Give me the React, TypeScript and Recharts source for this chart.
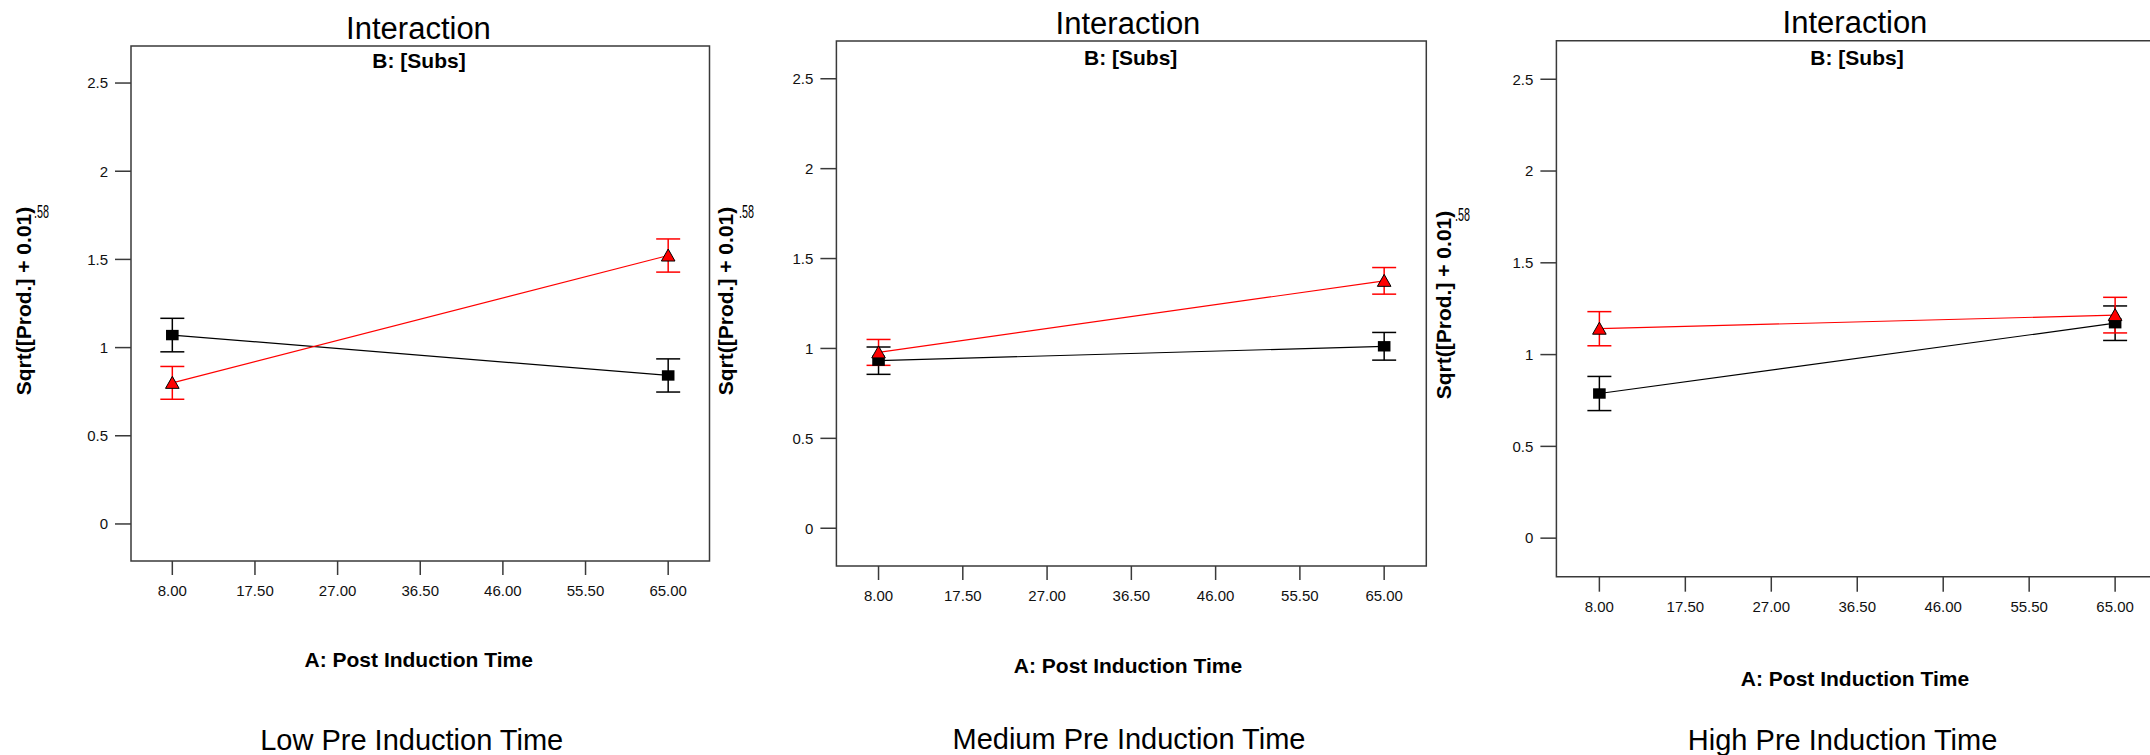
import React from 'react';
import { LineChart, Line, XAxis, YAxis, ErrorBar, ReferenceArea } from 'recharts';

// ---------- data ----------
const xLevels = [8, 65];
const xTicks = [8, 17.5, 27, 36.5, 46, 55.5, 65];
const yTicks = [0, 0.5, 1, 1.5, 2, 2.5];
const xDomain = [3.25, 69.75];
const yDomain = [-0.21, 2.71];

const lowBlack = [1.071, 0.842];
const lowBlackErr = [0.095, 0.094];
const lowRed = [0.8, 1.522];
const lowRedErr = [0.093, 0.094];

const medBlack = [0.932, 1.012];
const medBlackErr = [0.076, 0.077];
const medRed = [0.978, 1.376];
const medRedErr = [0.072, 0.074];

const highBlack = [0.788, 1.171];
const highBlackErr = [0.093, 0.094];
const highRed = [1.141, 1.215];
const highRedErr = [0.093, 0.097];

const panelCaptions = ['Low Pre Induction Time', 'Medium Pre Induction Time', 'High Pre Induction Time'];
const chartTitle = 'Interaction';
const subTitle = 'B: [Subs]';
const xAxisTitle = 'A: Post Induction Time';
const yAxisTitle = 'Sqrt([Prod.] + 0.01)';
const yAxisExponent = '.58';

const FONT = '"Liberation Sans", Arial, sans-serif';
const AXIS_COLOR = '#3a3a3a';

const rows = (vals: number[], errs: number[]) =>
  xLevels.map((x, i) => ({ x, y: vals[i], e: errs[i] }));

const SquareDot = (props: any) => {
  const { cx, cy, index } = props;
  if (cx == null || cy == null) return <g key={`sq-${index}`} />;
  return <rect key={`sq-${index}`} x={cx - 6.3} y={cy - 5.2} width={12.6} height={10.4} fill="#000" />;
};

const TriangleDot = (props: any) => {
  const { cx, cy, index } = props;
  if (cx == null || cy == null) return <g key={`tr-${index}`} />;
  const pts = `${cx},${cy - 6.5} ${cx - 6.8},${cy + 5.5} ${cx + 6.8},${cy + 5.5}`;
  return <polygon key={`tr-${index}`} points={pts} fill="#ff0000" stroke="#000" strokeWidth={1} />;
};

type PanelProps = {
  left: number;
  width: number;
  margin: { top: number; right: number; bottom: number; left: number };
  tickLenX: number;
  black: number[];
  blackErr: number[];
  red: number[];
  redErr: number[];
};

function Panel({ left, width, margin, tickLenX, black, blackErr, red, redErr }: PanelProps) {
  return (
    <div style={{ position: 'absolute', left, top: 0 }}>
      <LineChart width={width} height={755} margin={margin}>
        <XAxis
          type="number"
          dataKey="x"
          domain={xDomain}
          ticks={xTicks}
          interval={0}
          allowDataOverflow
          axisLine={false}
          tickLine={{ stroke: AXIS_COLOR, strokeWidth: 1.5 }}
          tickSize={tickLenX}
          tickMargin={10}
          height={40}
          tickFormatter={(v: number) => v.toFixed(2)}
          tick={{ fontSize: 15, fill: '#111', fontFamily: FONT }}
        />
        <YAxis
          type="number"
          domain={yDomain}
          ticks={yTicks}
          interval={0}
          allowDataOverflow
          axisLine={false}
          tickLine={{ stroke: AXIS_COLOR, strokeWidth: 1.5 }}
          tickSize={16}
          tickMargin={7}
          width={60}
          tick={{ fontSize: 15, fill: '#111', fontFamily: FONT }}
        />
        <ReferenceArea
          x1={xDomain[0]}
          x2={xDomain[1]}
          y1={yDomain[0]}
          y2={yDomain[1]}
          fill="none"
          fillOpacity={0}
          stroke={AXIS_COLOR}
          strokeWidth={1.5}
          ifOverflow="extendDomain"
        />
        <Line
          data={rows(black, blackErr)}
          dataKey="y"
          stroke="#000"
          strokeWidth={1.2}
          dot={SquareDot}
          activeDot={false}
          isAnimationActive={false}
        >
          <ErrorBar dataKey="e" width={12} stroke="#000" strokeWidth={1.5} direction="y" />
        </Line>
        <Line
          data={rows(red, redErr)}
          dataKey="y"
          stroke="#ff0000"
          strokeWidth={1.2}
          dot={TriangleDot}
          activeDot={false}
          isAnimationActive={false}
        >
          <ErrorBar dataKey="e" width={12} stroke="#ff0000" strokeWidth={1.5} direction="y" />
        </Line>
      </LineChart>
    </div>
  );
}

type TextSpec = {
  titleX: number; titleY: number;
  subX: number; subY: number;
  xlabX: number; xlabY: number;
  capX: number; capY: number;
  ylabX: number; ylabY: number;
  expX: number; expY: number;
  caption: string;
};

const textSpecs: TextSpec[] = [
  { titleX: 418.5, titleY: 39, subX: 419, subY: 68, xlabX: 418.7, xlabY: 667, capX: 411.7, capY: 750, ylabX: 31, ylabY: 301, expX: 34, expY: 218, caption: panelCaptions[0] },
  { titleX: 1128, titleY: 34, subX: 1130.7, subY: 65, xlabX: 1128, xlabY: 673, capX: 1129, capY: 749, ylabX: 733, ylabY: 301, expX: 739, expY: 218, caption: panelCaptions[1] },
  { titleX: 1855, titleY: 33, subX: 1857, subY: 65, xlabX: 1855, xlabY: 686, capX: 1842.6, capY: 750, ylabX: 1451, ylabY: 305, expX: 1455, expY: 221, caption: panelCaptions[2] },
];

function Overlay() {
  return (
    <svg
      width={2150}
      height={755}
      style={{ position: 'absolute', left: 0, top: 0, pointerEvents: 'none' }}
      fontFamily={FONT}
    >
      {textSpecs.map((t, i) => (
        <g key={i} fill="#000">
          <text x={t.titleX} y={t.titleY} fontSize={31} textAnchor="middle">{chartTitle}</text>
          <text x={t.subX} y={t.subY} fontSize={21} fontWeight="bold" textAnchor="middle">{subTitle}</text>
          <text x={t.xlabX} y={t.xlabY} fontSize={21} fontWeight="bold" textAnchor="middle">{xAxisTitle}</text>
          <text x={t.capX} y={t.capY} fontSize={29} textAnchor="middle">{t.caption}</text>
          <text
            x={0}
            y={0}
            fontSize={21}
            fontWeight="bold"
            textAnchor="middle"
            transform={`translate(${t.ylabX},${t.ylabY}) rotate(-90)`}
          >
            {yAxisTitle}
          </text>
          <text x={0} y={0} fontSize={18} transform={`translate(${t.expX},${t.expY}) scale(0.6,1)`}>
            {yAxisExponent}
          </text>
        </g>
      ))}
    </svg>
  );
}

export default function App() {
  return (
    <div
      style={{
        position: 'fixed',
        left: 0,
        top: 0,
        width: 2150,
        height: 755,
        overflow: 'hidden',
        background: '#fff',
      }}
    >
      <Panel
        left={0}
        width={720}
        margin={{ top: 46, right: 10.5, bottom: 154, left: 71 }}
        tickLenX={14}
        black={lowBlack}
        blackErr={lowBlackErr}
        red={lowRed}
        redErr={lowRedErr}
      />
      <Panel
        left={720}
        width={720}
        margin={{ top: 41, right: 13.7, bottom: 149, left: 56.4 }}
        tickLenX={14}
        black={medBlack}
        blackErr={medBlackErr}
        red={medRed}
        redErr={medRedErr}
      />
      <Panel
        left={1440}
        width={720}
        margin={{ top: 40.7, right: 1.9, bottom: 138.3, left: 56.4 }}
        tickLenX={15}
        black={highBlack}
        blackErr={highBlackErr}
        red={highRed}
        redErr={highRedErr}
      />
      <Overlay />
    </div>
  );
}
